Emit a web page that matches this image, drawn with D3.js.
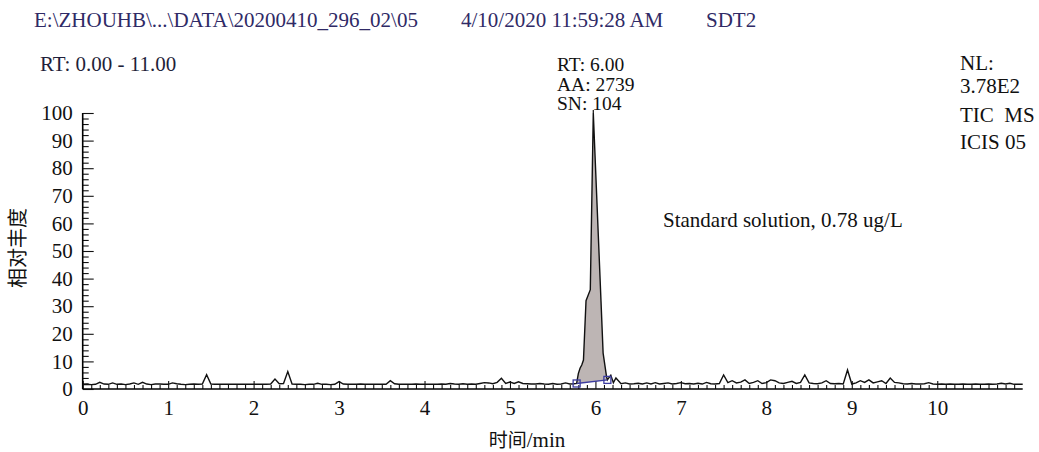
<!DOCTYPE html>
<html><head><meta charset="utf-8">
<script src="https://cdn.jsdelivr.net/npm/d3@7"></script>
<style>body{margin:0;background:#fff;} svg{display:block;}</style>
</head><body>
<svg id="c" width="1039" height="452"></svg>
<script>
// ---------- data ----------
const xTickValues = [0,1,2,3,4,5,6,7,8,9,10];
const yTickValues = [0,10,20,30,40,50,60,70,80,90,100];
const sampleStep = 0.05;
const preStart = 0.0;
const preTrace = [
 1.6,1.7,1.6,1.7,2.4,1.8,1.7,2.2,1.7,1.8,
 1.6,1.8,2.2,1.7,2.4,1.8,1.6,1.8,1.8,1.7,
 1.7,2.2,1.9,1.7,1.6,1.7,1.8,1.7,1.8,5.2,
 1.8,1.7,1.7,1.7,1.7,1.7,1.7,1.7,1.7,1.7,
 1.7,1.7,1.7,1.7,1.8,3.6,1.9,2.0,6.3,1.8,
 1.7,1.7,1.6,1.7,1.7,2.1,1.7,1.7,1.6,1.7,
 2.7,1.8,1.7,1.7,1.7,1.8,1.7,1.7,1.7,1.7,
 1.7,1.7,3.0,1.9,1.7,1.7,1.7,1.7,1.8,1.7,
 1.7,1.7,1.7,1.7,1.8,1.7,2.0,1.8,1.7,1.9,
 1.7,1.8,1.7,2.0,2.3,2.2,1.9,2.4,3.9,2.0,
 2.5,2.0,2.6,2.0,1.9,1.8,1.8,2.0,1.8,1.7,
 2.0,1.7,1.8,2.2,1.8,1.9
];
const peakTimes  = [5.78,5.80,5.82,5.84,5.86,5.89,5.94,5.975,6.065,6.09,6.13,6.14,6.18,6.21,6.24];
const peakValues = [2.0, 5.6, 7.5, 8.7, 10.5,32,  36,  100,  32,   13,  4.5, 3.3, 5.0, 2.3, 4.0];
const postStart = 6.30;
const postTrace = [
 1.9,2.2,1.8,1.9,2.1,1.8,2.2,1.8,2.3,1.8,
 2.0,2.2,1.8,2.0,2.3,1.9,2.0,1.8,2.1,1.8,
 2.4,1.9,1.8,2.0,5.1,2.3,3.0,2.2,2.5,3.3,
 2.0,2.4,3.0,2.0,2.3,3.3,3.0,2.2,2.0,2.4,
 2.8,2.0,2.4,5.1,2.2,2.0,1.9,2.2,3.0,2.0,
 1.9,2.0,1.8,6.9,1.8,2.2,3.0,2.4,3.3,2.2,
 2.6,3.0,2.0,4.0,2.4,2.2,1.9,1.8,2.0,1.8,
 1.8,1.9,2.3,1.8,1.7,1.8,1.7,1.8,1.7,1.7,
 1.8,1.7,1.7,1.8,1.7,1.7,1.8,1.7,1.8,2.1,
 1.8,2.1,1.7,1.7,1.7
];
const integrationTimes  = [5.78, 6.14];
const integrationValues = [2.0, 3.3];
const headerTexts = ["E:\\ZHOUHB\\...\\DATA\\20200410_296_02\\05", "4/10/2020 11:59:28 AM", "SDT2"];
const rangeText = "RT: 0.00 - 11.00";
const peakLabels = ["RT: 6.00", "AA: 2739", "SN: 104"];
const infoLabels = ["NL:", "3.78E2", "TIC  MS", "ICIS 05"];
const sampleLabel = "Standard solution, 0.78 ug/L";
const xTitle = ["时间", "/min"];
const yTitle = "相对丰度";

// ---------- build trace ----------
const trace = [];
preTrace.forEach((v,i)=>trace.push([preStart + i*sampleStep, v]));
peakTimes.forEach((t,i)=>trace.push([t, peakValues[i]]));
postTrace.forEach((v,i)=>trace.push([postStart + i*sampleStep, v]));

// ---------- layout ----------
const svg = d3.select("#c");
const serif = "'Liberation Serif','Times New Roman',serif";
const cjk = "'Noto Sans CJK SC'";
const FS = 21;
const x = d3.scaleLinear().domain([0, 11]).range([82.7, 1022.7]);
const y = d3.scaleLinear().domain([0, 100]).range([389, 113]);

// peak fill
const baseLine = d3.scaleLinear().domain(integrationTimes).range(integrationValues);
const peakPts = trace.filter(d => d[0] >= integrationTimes[0] && d[0] <= integrationTimes[1]);
svg.append("path")
  .datum(peakPts)
  .attr("fill", "#bdb5b4")
  .attr("d", d3.area().x(d=>x(d[0])).y1(d=>y(d[1])).y0(d=>y(baseLine(d[0]))));

// axes: x
const xAxisG = svg.append("g").attr("transform", `translate(0,${y(0)})`);
xAxisG.call(d3.axisBottom(x).tickValues(d3.range(0, 110, 1).map(i=>i/10).filter(v=>Math.abs(v-Math.round(v))>1e-6))
  .tickSizeInner(-4).tickSizeOuter(0).tickFormat(""));
xAxisG.call(g=>g.select(".domain").remove());
const xMajor = svg.append("g").attr("transform", `translate(0,${y(0)})`)
  .call(d3.axisBottom(x).tickValues(xTickValues).tickSizeInner(-8).tickSizeOuter(0).tickPadding(11).tickFormat(d3.format("d")));
xMajor.select(".domain").attr("d", `M${x(0)},0H${x(11)}`).attr("stroke-width", 1.6);
[xAxisG, xMajor].forEach(g=>g.selectAll("line").attr("stroke","#111").attr("stroke-width",1.1));
xMajor.selectAll("text").attr("font-family", serif).attr("font-size", FS).attr("fill", "#111");

// axes: y
const yMinor = svg.append("g").attr("transform", `translate(${x(0)},0)`)
  .call(d3.axisLeft(y).tickValues(d3.range(0,101,2).filter(v=>v%10!==0)).tickSizeInner(-6).tickSizeOuter(0).tickFormat(""));
yMinor.select(".domain").remove();
const yMajor = svg.append("g").attr("transform", `translate(${x(0)},0)`)
  .call(d3.axisLeft(y).tickValues(yTickValues).tickSizeInner(-11).tickSizeOuter(0).tickPadding(10));
yMajor.select(".domain").attr("d", `M0,${y(0)}V${y(100)}`).attr("stroke-width", 1.6);
[yMinor, yMajor].forEach(g=>g.selectAll("line").attr("stroke","#111").attr("stroke-width",1.1));
yMajor.selectAll("text").attr("font-family", serif).attr("font-size", FS).attr("fill", "#111");

// trace line
svg.append("path")
  .datum(trace)
  .attr("fill", "none").attr("stroke", "#111").attr("stroke-width", 1.4).attr("stroke-linejoin","miter")
  .attr("d", d3.line().x(d=>x(d[0])).y(d=>y(d[1])));

// integration baseline and markers
svg.append("line")
  .attr("x1", x(integrationTimes[0])).attr("y1", y(integrationValues[0]))
  .attr("x2", x(integrationTimes[1])).attr("y2", y(integrationValues[1]))
  .attr("stroke", "#3c3ca0").attr("stroke-width", 1.3);
integrationTimes.forEach((t,i)=>{
  svg.append("rect").attr("x", x(t)-3.5).attr("y", y(integrationValues[i])-3.5)
    .attr("width", 7).attr("height", 7).attr("fill", "none")
    .attr("stroke", "#3c3ca0").attr("stroke-width", 1.3);
});

// apex marker line
const apexIdx = d3.maxIndex(trace, d=>d[1]);
svg.append("line").attr("x1", x(trace[apexIdx][0])).attr("x2", x(trace[apexIdx][0]))
  .attr("y1", 110).attr("y2", y(trace[apexIdx][1])).attr("stroke", "#111").attr("stroke-width", 1.2);

// ---------- texts ----------
const hdrColor = "#2f2a66";
const hdrX = [34, 461, 706];
headerTexts.forEach((t,i)=>svg.append("text").attr("x", hdrX[i]).attr("y", 27)
  .attr("font-family", serif).attr("font-size", FS).attr("fill", hdrColor).text(t));
svg.append("text").attr("x", 40).attr("y", 71).attr("font-family", serif).attr("font-size", FS)
  .attr("fill", "#1f1f3a").text(rangeText);
peakLabels.forEach((t,i)=>svg.append("text").attr("x", 557).attr("y", 71 + i*19.5)
  .attr("font-family", serif).attr("font-size", 19.5).attr("textLength", null).attr("fill", "#111").text(t));
const infoY = [70, 93, 122, 149];
infoLabels.forEach((t,i)=>svg.append("text").attr("x", 960).attr("y", infoY[i])
  .attr("font-family", serif).attr("font-size", FS).attr("fill", "#111")
  .style("white-space","pre").text(t));
svg.append("text").attr("x", 663).attr("y", 227).attr("font-family", serif).attr("font-size", FS)
  .attr("fill", "#111").text(sampleLabel);
svg.append("text").attr("x", 527).attr("y", 447).attr("text-anchor", "middle")
  .attr("font-size", 20).attr("fill", "#111")
  .selectAll("tspan").data([[xTitle[0], cjk], [xTitle[1], serif]]).join("tspan")
  .attr("font-family", d=>d[1]).attr("font-size", (d,i)=> i===0 ? 19 : FS).text(d=>d[0]);
svg.append("text").attr("transform", "translate(25,248) rotate(-90)").attr("text-anchor", "middle")
  .attr("font-family", cjk).attr("font-size", 20).attr("fill", "#111").text(yTitle);
</script>
</body></html>
